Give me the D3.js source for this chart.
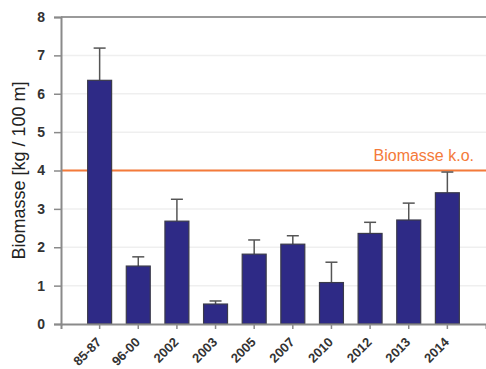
<!DOCTYPE html>
<meta charset="utf-8">
<body style="margin:0;background:#fff">
<script src="https://d3js.org/d3.v7.min.js"></script>
<div id="chart"></div>
<script>
    // data
    var categories = ["85-87", "96-00", "2002", "2003", "2005", "2007", "2010", "2012", "2013", "2014"];
    var biomass = [6.35, 1.51, 2.68, 0.52, 1.82, 2.08, 1.08, 2.36, 2.71, 3.42];
    var errorTop = [7.19, 1.75, 3.25, 0.60, 2.19, 2.30, 1.61, 2.65, 3.15, 3.96];
    var yTicks = [0, 1, 2, 3, 4, 5, 6, 7, 8];
    var threshold = 4;
    var thresholdLabel = "Biomasse k.o.";

    var W = 486, H = 369;
    var plotLeft = 61, plotRight = 486, plotTop = 17, plotBottom = 324;

    var svg = d3.select("#chart").append("svg")
        .attr("width", W).attr("height", H)
        .style("font-family", "Arial, 'Liberation Sans', sans-serif");

    var x = d3.scaleBand()
        .domain(categories)
        .range([plotLeft, plotRight])
        .paddingInner(0.38)
        .paddingOuter(0.69);

    var y = d3.scaleLinear().domain([0, 8]).range([plotBottom, plotTop]);

    // grid
    svg.append("g").selectAll("line")
        .data(yTicks.filter(function(d) { return d > 0 && d < 8; }))
        .enter().append("line")
        .attr("x1", plotLeft).attr("x2", plotRight)
        .attr("y1", function(d) { return y(d); })
        .attr("y2", function(d) { return y(d); })
        .attr("stroke", "#efefef").attr("stroke-width", 1.5);

    // top border
    svg.append("line")
        .attr("x1", plotLeft).attr("x2", plotRight)
        .attr("y1", y(8)).attr("y2", y(8))
        .attr("stroke", "#9a9a9a").attr("stroke-width", 2);

    // threshold line
    svg.append("line")
        .attr("x1", plotLeft).attr("x2", plotRight)
        .attr("y1", y(threshold)).attr("y2", y(threshold))
        .attr("stroke", "#f47a3a").attr("stroke-width", 2);
    svg.append("text")
        .attr("x", 474).attr("y", y(threshold) - 10)
        .attr("text-anchor", "end")
        .attr("fill", "#f47a3a")
        .style("font-size", "16px")
        .text(thresholdLabel);

    // error bars
    var eb = svg.append("g").attr("stroke", "#555").attr("stroke-width", 1.5);
    categories.forEach(function(c, i) {
        var cx = x(c) + x.bandwidth() / 2;
        eb.append("line")
            .attr("x1", cx).attr("x2", cx)
            .attr("y1", y(biomass[i])).attr("y2", y(errorTop[i]));
        eb.append("line")
            .attr("x1", cx - 6).attr("x2", cx + 6)
            .attr("y1", y(errorTop[i])).attr("y2", y(errorTop[i]));
    });

    // bars
    svg.append("g").selectAll("rect")
        .data(categories)
        .enter().append("rect")
        .attr("x", function(d) { return x(d); })
        .attr("width", x.bandwidth())
        .attr("y", function(d, i) { return y(biomass[i]); })
        .attr("height", function(d, i) { return plotBottom - y(biomass[i]); })
        .attr("fill", "#2e2a86")
        .attr("stroke", "#3a3a4a")
        .attr("stroke-width", 1.2);

    // Y axis
    var yAxis = svg.append("g")
        .attr("transform", "translate(" + plotLeft + ",0)")
        .call(d3.axisLeft(y).tickValues(yTicks).tickFormat(d3.format("d")).tickSize(7).tickPadding(9));
    yAxis.select(".domain").attr("stroke", "#8a8a8a").attr("stroke-width", 2);
    yAxis.selectAll(".tick line").attr("stroke", "#8a8a8a").attr("stroke-width", 1.5);
    yAxis.selectAll("text")
        .attr("fill", "#333").style("font-size", "14px").style("font-weight", "bold");

    // X axis
    var xAxis = svg.append("g")
        .attr("transform", "translate(0," + plotBottom + ")")
        .call(d3.axisBottom(x).tickSizeOuter(0).tickSize(5));
    xAxis.select(".domain").attr("stroke", "#8a8a8a").attr("stroke-width", 2);
    xAxis.selectAll(".tick line").attr("stroke", "#8a8a8a").attr("stroke-width", 1.5);
    xAxis.selectAll("text")
        .attr("fill", "#333").style("font-size", "13px").style("font-weight", "bold")
        .attr("text-anchor", "end")
        .attr("y", 0).attr("dy", 0)
        .attr("transform", "translate(2.5,19)rotate(-45)");

    // axis title
    svg.append("text")
        .attr("transform", "translate(25," + ((plotTop + plotBottom) / 2) + ")rotate(-90)")
        .attr("text-anchor", "middle")
        .attr("fill", "#222")
        .style("font-size", "18px")
        .text("Biomasse [kg / 100 m]");
</script>
</body>
